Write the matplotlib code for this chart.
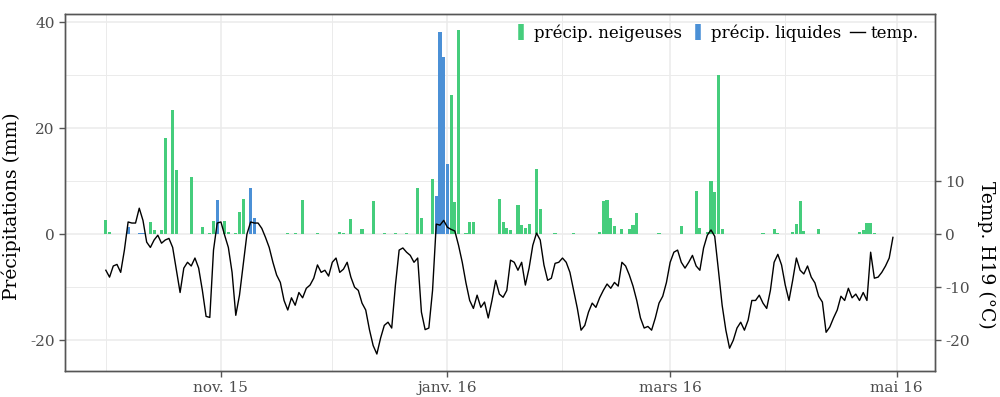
import pandas as pd
import matplotlib
matplotlib.use("Agg")
import matplotlib.pyplot as plt
from matplotlib.lines import Line2D

plt.rcParams["axes.unicode_minus"] = False

# daily temperature at H19 (degC), 2015-10-01 .. 2016-04-30
temp_start = "2015-10-01"
temp = [
    -6.8, -8.1, -6.0, -5.7, -7.2, -3.0, 2.3, 2.1, 2.1, 4.9,
    2.6, -1.5, -2.5, -1.1, -0.2, -1.7, -1.1, -0.8, -2.5, -6.8,
    -11.0, -6.4, -5.3, -6.0, -4.5, -6.4, -10.6, -15.5, -15.7, -3.0,
    2.1, 2.3, -0.2, -2.5, -7.2, -15.3, -11.5, -5.8, 0.0, 2.3,
    2.1, 2.1, 1.1, -0.6, -2.5, -5.3, -7.7, -9.1, -12.5, -14.3,
    -12.0, -13.4, -11.0, -12.0, -10.2, -9.6, -8.3, -5.8, -7.2, -6.8,
    -7.9, -5.3, -4.5, -7.2, -6.6, -5.3, -8.1, -10.0, -10.6, -13.0,
    -14.3, -18.0, -21.0, -22.6, -19.6, -17.2, -16.6, -17.7, -9.6, -3.0,
    -2.6, -3.4, -4.0, -5.3, -4.5, -14.7, -18.0, -17.7, -10.6, 1.9,
    1.7, 2.6, 1.3, 0.9, 0.6, -2.1, -5.3, -9.2, -12.5, -14.0,
    -11.5, -13.8, -12.8, -15.8, -12.5, -8.7, -11.3, -11.9, -10.6, -4.9,
    -5.3, -6.8, -5.3, -9.6, -6.4, -2.1, 0.2, -1.1, -5.8, -8.7,
    -8.3, -5.5, -5.3, -4.5, -5.3, -7.2, -10.6, -14.0, -18.1, -17.2,
    -14.7, -13.0, -13.8, -12.0, -10.6, -9.4, -10.2, -9.1, -9.8, -5.3,
    -6.0, -7.7, -9.8, -12.5, -15.8, -17.7, -17.4, -18.1, -15.8, -13.0,
    -11.7, -9.1, -5.3, -3.4, -3.0, -5.3, -6.4, -5.3, -4.0, -6.0,
    -6.8, -2.6, -0.2, 0.8, -0.4, -6.8, -13.4, -18.1, -21.5, -20.0,
    -17.7, -16.6, -18.1, -16.2, -12.5, -12.5, -11.5, -13.0, -14.0, -10.6,
    -5.3, -3.8, -5.8, -9.6, -12.5, -8.7, -4.5, -6.8, -7.5, -6.0,
    -8.1, -9.2, -11.7, -12.8, -18.5, -17.5, -15.8, -14.3, -11.7, -12.5,
    -10.2, -12.0, -11.3, -12.5, -11.0, -12.5, -3.4, -8.3, -8.1, -7.2,
    -6.0, -4.5, -0.6,
]

# snowfall (mm)
snow_dates = [
    "2015-10-01", "2015-10-02", "2015-10-13", "2015-10-14", "2015-10-16", "2015-10-17",
    "2015-10-19", "2015-10-20", "2015-10-24", "2015-10-27", "2015-10-29", "2015-10-30",
    "2015-11-02", "2015-11-03", "2015-11-05", "2015-11-06", "2015-11-07", "2015-11-19",
    "2015-11-21", "2015-11-23", "2015-11-27", "2015-12-03", "2015-12-04", "2015-12-06",
    "2015-12-09", "2015-12-12", "2015-12-15", "2015-12-18", "2015-12-21", "2015-12-24",
    "2015-12-25", "2015-12-28", "2016-01-02", "2016-01-03", "2016-01-04", "2016-01-06",
    "2016-01-07", "2016-01-08", "2016-01-15", "2016-01-16", "2016-01-17", "2016-01-18",
    "2016-01-20", "2016-01-21", "2016-01-22", "2016-01-23", "2016-01-25", "2016-01-26",
    "2016-01-30", "2016-02-04", "2016-02-11", "2016-02-12", "2016-02-13", "2016-02-14",
    "2016-02-15", "2016-02-17", "2016-02-19", "2016-02-20", "2016-02-21", "2016-02-27",
    "2016-03-04", "2016-03-08", "2016-03-09", "2016-03-11", "2016-03-12", "2016-03-13",
    "2016-03-14", "2016-03-15", "2016-03-26", "2016-03-29", "2016-03-30", "2016-04-03",
    "2016-04-04", "2016-04-05", "2016-04-06", "2016-04-10", "2016-04-21", "2016-04-22",
    "2016-04-23", "2016-04-24", "2016-04-25",
]
snow_mm = [
    2.6, 0.5, 2.3, 0.7, 0.7, 18.2,
    23.4, 12.1, 10.8, 1.4, 0.2, 2.4,
    2.5, 0.5, 0.2, 4.2, 6.6, 0.3,
    0.3, 6.4, 0.2, 0.5, 0.3, 2.8,
    1.0, 6.2, 0.3, 0.2, 0.3, 8.7,
    3.0, 10.4, 26.3, 6.0, 38.5, 0.3,
    2.3, 2.3, 6.6, 2.3, 1.2, 0.8,
    5.5, 1.8, 1.2, 2.0, 12.2, 4.8,
    0.3, 0.3, 0.5, 6.3, 6.5, 3.0,
    1.5, 1.0, 1.0, 1.8, 4.0, 0.3,
    1.5, 8.2, 1.2, 0.5, 10.0, 8.0,
    30.0, 1.0, 0.3, 0.9, 0.3, 0.5,
    2.0, 6.2, 0.6, 1.0, 0.4, 0.8,
    2.2, 2.2, 0.3,
]

# rainfall (mm)
rain_dates = [
    "2015-10-07", "2015-10-10", "2015-10-11", "2015-10-31", "2015-11-09", "2015-11-10",
    "2015-12-29", "2015-12-30", "2015-12-31", "2016-01-01",
]
rain_mm = [1.3, 0.3, 0.3, 6.4, 8.7, 3.0, 7.2, 38.2, 33.5, 13.2]

tick_dates = ["2015-11-01", "2016-01-01", "2016-03-01", "2016-05-01"]
tick_labels = ["nov. 15", "janv. 16", "mars 16", "mai 16"]
minor_dates = ["2015-10-01", "2015-12-01", "2016-02-01", "2016-04-01"]

GREEN = "#45cd7c"
BLUE = "#4b90d6"
GRID = "#ebebeb"
SERIF = "DejaVu Serif"

days = pd.date_range(temp_start, periods=len(temp), freq="D")

fig = plt.figure(figsize=(10, 3.97), dpi=100)
ax = fig.add_axes([0.065, 0.0655, 0.87, 0.899])
ax2 = ax.twinx()

ax.bar(pd.to_datetime(snow_dates), snow_mm, width=0.85, color=GREEN, zorder=2)
ax.bar(pd.to_datetime(rain_dates), rain_mm, width=0.85, color=BLUE, zorder=2)
ax2.plot(days, temp, color="black", lw=1.0)

ylim = (-25.8, 41.5)
ax.set_ylim(*ylim)
ax2.set_ylim(*ylim)
ax.set_xlim(pd.Timestamp("2015-09-20"), pd.Timestamp("2016-05-11 08:00"))

ax.set_yticks([-20, 0, 20, 40])
ax.set_yticks([-10, 10, 30], minor=True)
ax2.set_yticks([-20, -10, 0, 10])
ax.set_xticks(pd.to_datetime(tick_dates))
ax.set_xticklabels(tick_labels)
ax.set_xticks(pd.to_datetime(minor_dates), minor=True)

ax.grid(True, which="major", color=GRID, lw=1.1, zorder=0)
ax.grid(True, which="minor", color=GRID, lw=0.7, zorder=0)
ax.set_axisbelow(True)

for a in (ax, ax2):
    for s in a.spines.values():
        s.set_color("#555555")
        s.set_linewidth(1.0)
    a.tick_params(which="major", length=4, width=1, color="#555555",
                  labelsize=11, labelcolor="#4d4d4d")
    a.tick_params(which="minor", length=0)
    for lab in a.get_xticklabels() + a.get_yticklabels():
        lab.set_family(SERIF)

ax.set_ylabel("Précipitations (mm)", family=SERIF, fontsize=13.5)
ax.yaxis.set_label_coords(-0.051, 0.462)
ax2.set_ylabel("Temp. H19 (°C)", family=SERIF, fontsize=13.5, rotation=270,
               va="center")
ax2.yaxis.set_label_coords(1.059, 0.325)

handles = [
    Line2D([], [], marker="|", markersize=11, markeredgewidth=4, color=GREEN, linestyle="none"),
    Line2D([], [], marker="|", markersize=11, markeredgewidth=4, color=BLUE, linestyle="none"),
    Line2D([], [], color="black", lw=1.0),
]
ax.legend(handles, ["précip. neigeuses", "précip. liquides", "temp."],
          loc="upper right", bbox_to_anchor=(0.998, 1.012), ncol=3, frameon=False,
          handlelength=0.9, handletextpad=0.3, columnspacing=0.55,
          prop={"family": SERIF, "size": 12})

fig.savefig("out.png", dpi=100)
